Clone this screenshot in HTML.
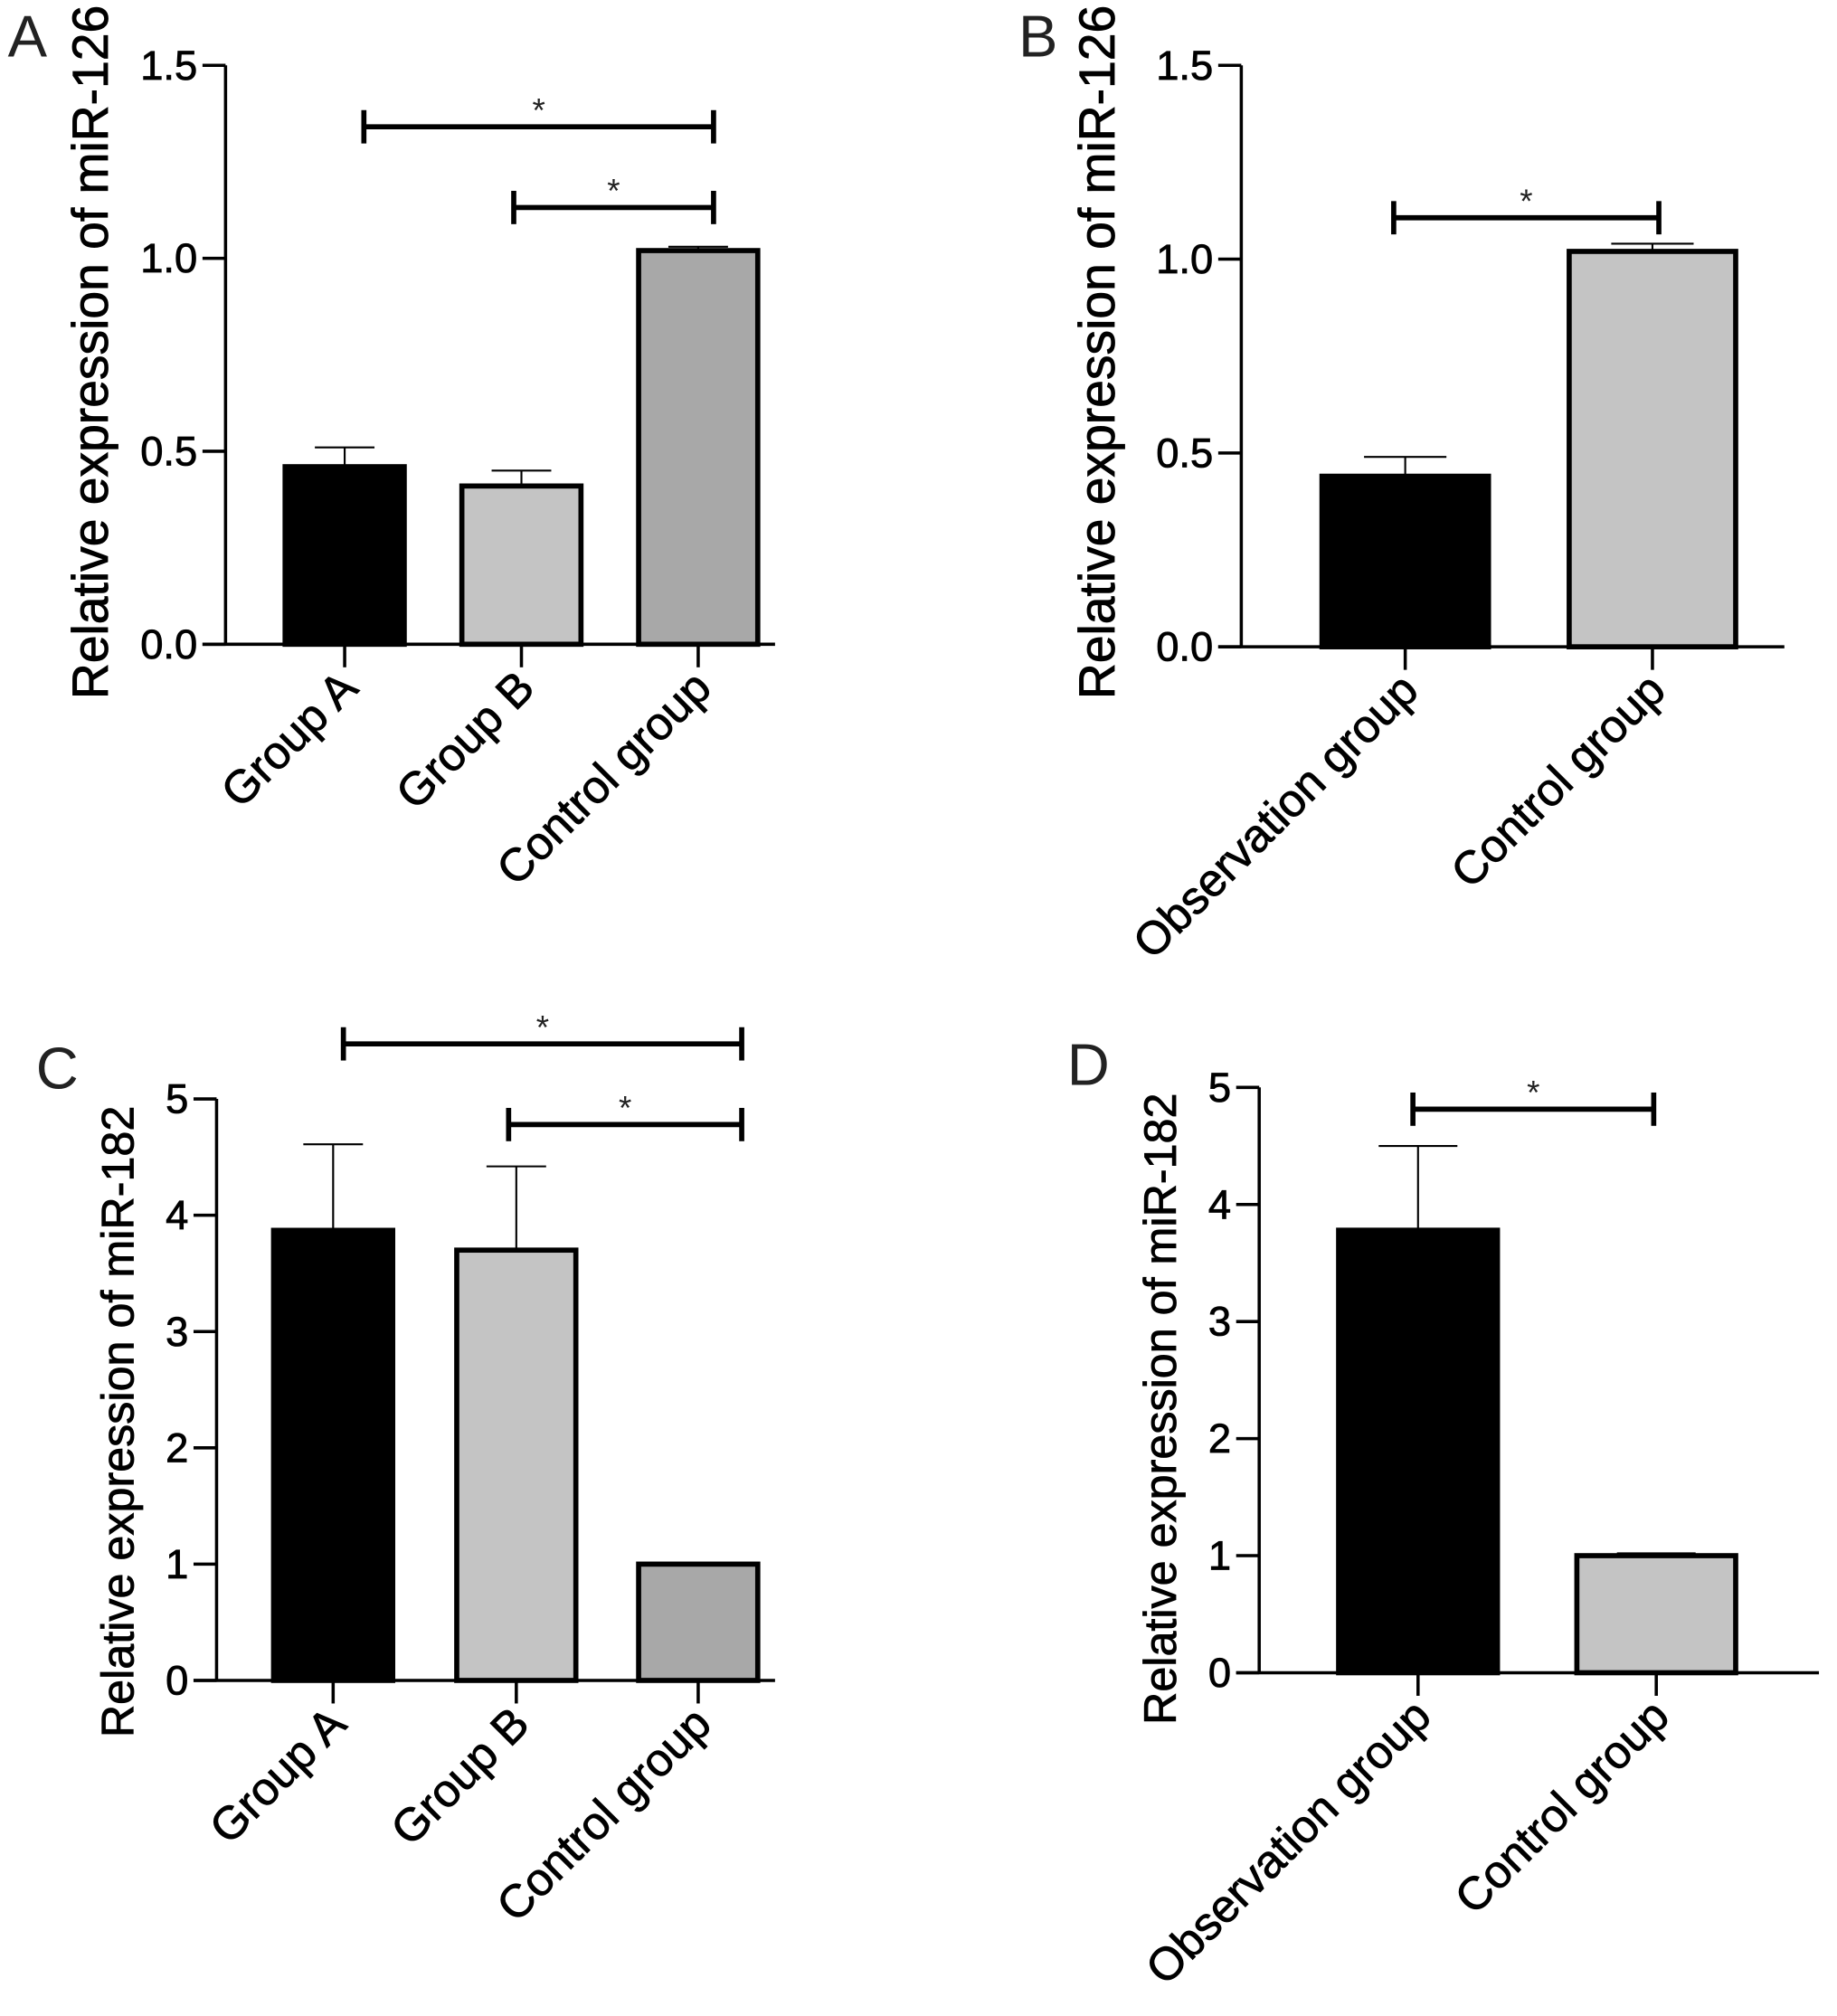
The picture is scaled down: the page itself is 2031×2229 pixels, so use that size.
<!DOCTYPE html>
<html><head><meta charset="utf-8"><style>
html,body{margin:0;padding:0;background:#fff;}
svg{display:block;font-family:"Liberation Sans",Arial,sans-serif;}
</style></head><body>
<svg id="fig" width="2031" height="2229" viewBox="0 0 1434 1574" xmlns="http://www.w3.org/2000/svg"></svg>
<script>
const catsA = ["Group A","Group B","Control group"];
const valsA = [0.46,0.41,1.02];
const errsA = [0.05,0.04,0.01];
const ticksA = [0,0.5,1.0,1.5];
const tickLabelsA = ["0.0","0.5","1.0","1.5"];
const catsB = ["Observation group","Control group"];
const valsB = [0.44,1.02];
const errsB = [0.05,0.02];
const catsC = ["Group A","Group B","Control group"];
const valsC = [3.87,3.70,1.0];
const errsC = [0.74,0.72,0.01];
const ticksC = [0,1,2,3,4,5];
const tickLabelsC = ["0","1","2","3","4","5"];
const catsD = ["Observation group","Control group"];
const valsD = [3.78,1.0];
const errsD = [0.72,0.02];

const NS="http://www.w3.org/2000/svg";
const svg=document.getElementById('fig');
function mk(tag,attrs,parent){const e=document.createElementNS(NS,tag);for(const k in attrs)e.setAttribute(k,attrs[k]);(parent||svg).appendChild(e);return e;}
const bold={stroke:'#000','stroke-width':0.6};

function panel(cfg){
  const g=mk('g',{});
  
  
  const y=v=>cfg.y0-(v-cfg.ymin)/(cfg.ymax-cfg.ymin)*(cfg.y0-cfg.y1);
  const L=mk('text',{x:cfg.lx,y:cfg.ly,'font-size':46,fill:'#222'},g);L.textContent=cfg.letter;
  
  
  const T=mk('text',Object.assign({x:0,y:0,'font-size':cfg.tfs,'text-anchor':'middle',transform:`translate(${cfg.tx},${cfg.ty}) rotate(-90)`},bold),g);
  T.textContent=cfg.title;
  
  
  cfg.cats.forEach((c,i)=>{
    const cx=cfg.cx[i],w=cfg.bw,top=y(cfg.vals[i]),etop=y(cfg.vals[i]+cfg.errs[i]);
    const el=mk('line',{x1:cx,x2:cx,y1:top,y2:etop,stroke:'#000','stroke-width':1.5},g);
    
    
    const ec=mk('line',{x1:cx-w*0.24,x2:cx+w*0.24,y1:etop,y2:etop,stroke:'#000','stroke-width':1.5},g);
    
    
    const r=mk('rect',{x:cx-w/2+2,y:top,width:w-4,height:cfg.y0-top,fill:cfg.fills[i],stroke:'#000','stroke-width':4},g);
    
    
    const tk=mk('line',{x1:cx,x2:cx,y1:cfg.y0,y2:cfg.y0+18,stroke:'#000','stroke-width':2.5},g);
    
    
    const t=mk('text',Object.assign({x:0,y:0,'font-size':36,'text-anchor':'end',transform:`translate(${cx+12},${cfg.y0+36}) rotate(-45)`},bold),g);
    t.textContent=c;
    
    
  });
  const ya=mk('line',{x1:cfg.ax,x2:cfg.ax,y1:cfg.y1,y2:cfg.y0,stroke:'#000','stroke-width':2.5},g);
  
  
  const xa=mk('line',{x1:cfg.ax-18,x2:cfg.xend,y1:cfg.y0,y2:cfg.y0,stroke:'#000','stroke-width':2.5},g);
  
  
  cfg.ticks.forEach((v,i)=>{
    const tl=mk('line',{x1:cfg.ax-18,x2:cfg.ax,y1:y(v),y2:y(v),stroke:'#000','stroke-width':2.5},g);
    
    
    const t=mk('text',Object.assign({x:cfg.ax-22,y:y(v)+11,'font-size':32,'text-anchor':'end'},bold),g);
    t.textContent=cfg.tickLabels[i];
    
    
  });
  cfg.sig.forEach(s=>{
    const sg=mk('g',{},g);
    
    
    mk('line',{x1:s[0],x2:s[1],y1:s[2],y2:s[2],stroke:'#000','stroke-width':4},sg);
    mk('line',{x1:s[0],x2:s[0],y1:s[2]-13,y2:s[2]+13,stroke:'#000','stroke-width':4},sg);
    mk('line',{x1:s[1],x2:s[1],y1:s[2]-13,y2:s[2]+13,stroke:'#000','stroke-width':4},sg);
    const st=mk('text',{x:(s[0]+s[1])/2,y:s[2]-4,'font-size':26,'text-anchor':'middle',fill:'#222'},sg);
    st.textContent='*';
  });
}
panel({letter:'A',lx:6,ly:44,tx:84,ty:275,tfs:39,title:'Relative expression of miR-126',ax:176,xend:605,y0:503,y1:51,ymin:0,ymax:1.5,
  ticks:ticksA,tickLabels:tickLabelsA,cats:catsA,vals:valsA,errs:errsA,cx:[269,407,545],bw:97,
  fills:['#000','#c4c4c4','#a8a8a8'],sig:[[284,557,99],[401,557,162]]});
panel({letter:'B',lx:795,ly:44,tx:870,ty:275,tfs:39,title:'Relative expression of miR-126',ax:969,xend:1393,y0:505,y1:51,ymin:0,ymax:1.5,
  ticks:ticksA,tickLabels:tickLabelsA,cats:catsB,vals:valsB,errs:errsB,cx:[1097,1290],bw:134,
  fills:['#000','#c4c4c4'],sig:[[1088,1295,170]]});
panel({letter:'C',lx:28,ly:850,tx:104,ty:1110,tfs:35.5,title:'Relative expression of miR-182',ax:169,xend:605,y0:1312,y1:858,ymin:0,ymax:5,
  ticks:ticksC,tickLabels:tickLabelsC,cats:catsC,vals:valsC,errs:errsC,cx:[260,403,545],bw:97,
  fills:['#000','#c4c4c4','#a8a8a8'],sig:[[268,579,815],[397,579,878]]});
panel({letter:'D',lx:833,ly:847,tx:918,ty:1100,tfs:35.5,title:'Relative expression of miR-182',ax:983,xend:1420,y0:1306,y1:849,ymin:0,ymax:5,
  ticks:ticksC,tickLabels:tickLabelsC,cats:catsD,vals:valsD,errs:errsD,cx:[1107,1293],bw:128,
  fills:['#000','#c4c4c4'],sig:[[1103,1291,866]]});
</script>
</body></html>
